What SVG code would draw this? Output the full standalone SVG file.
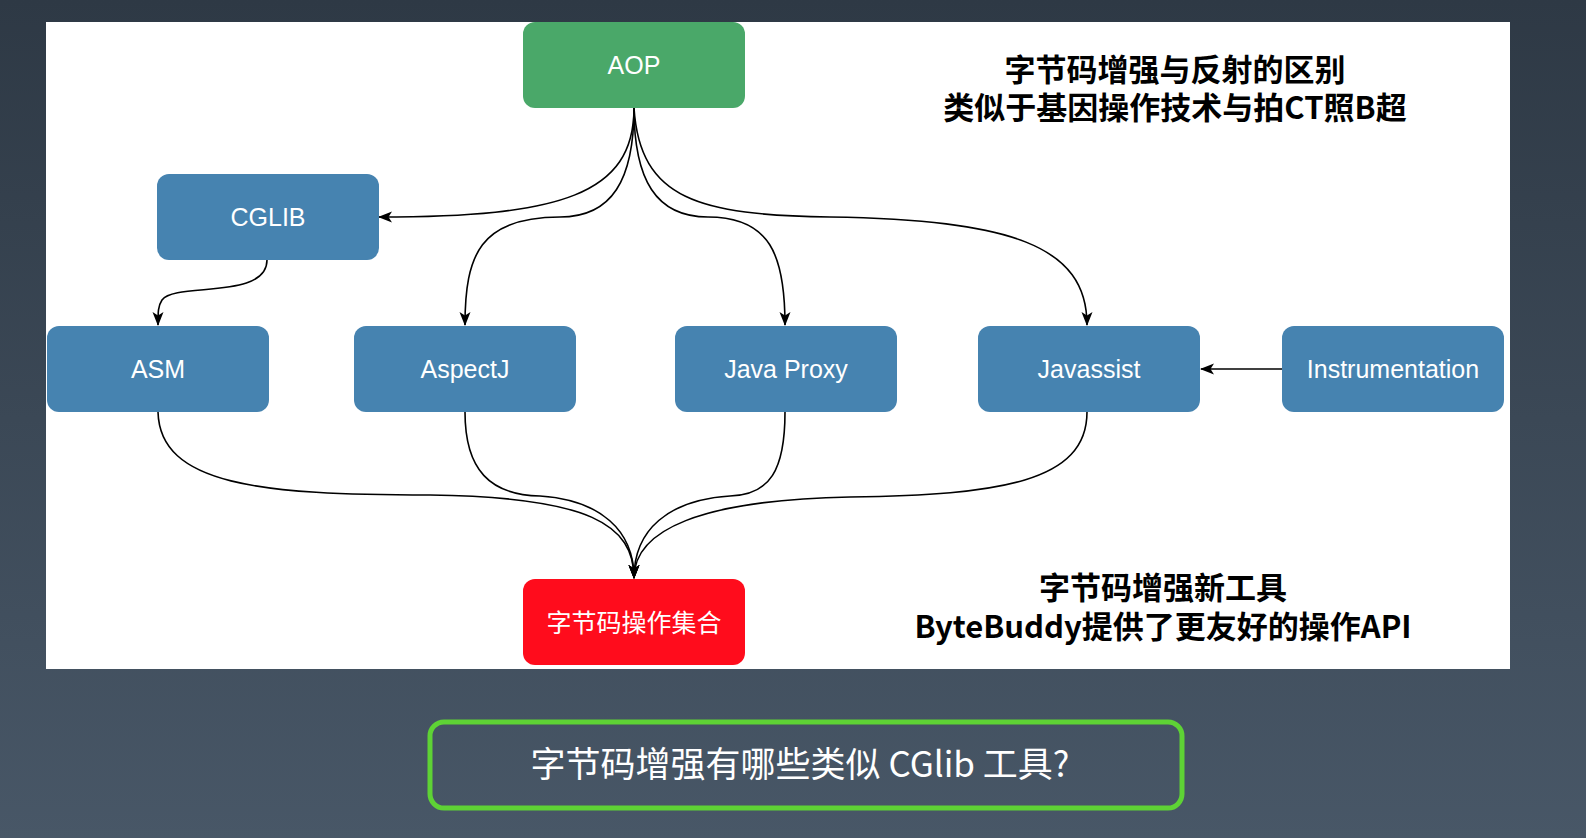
<svg xmlns="http://www.w3.org/2000/svg" width="1586" height="838" viewBox="0 0 1586 838">
<defs>
<linearGradient id="bg" x1="0" y1="0" x2="0" y2="1">
<stop offset="0" stop-color="#2e3945"/>
<stop offset="1" stop-color="#485767"/>
</linearGradient>
<marker id="arr" viewBox="0 0 14 12" refX="13" refY="6" markerWidth="14" markerHeight="12" markerUnits="userSpaceOnUse" orient="auto">
<path d="M0,0.5 L14,6 L0,11.5 L3.5,6 Z" fill="#000"/>
</marker>
<style>
.node rect{rx:12;ry:12}
.blue{fill:#4683b0}
.lbl{font-family:"Liberation Sans",Arial,sans-serif;font-size:25px;fill:#fff;text-anchor:middle;dominant-baseline:central}
.cjk{font-family:"Noto Sans CJK SC","Noto Sans",sans-serif}
.note{font-size:31px;font-weight:bold;fill:#000;text-anchor:middle}
.edge{fill:none;stroke:#000;stroke-width:1.6;marker-end:url(#arr)}
</style>
</defs>
<rect x="0" y="0" width="1586" height="838" fill="url(#bg)"/>
<rect x="46" y="22" width="1464" height="647" fill="#fff"/>

<g id="connectors">
<path class="edge" d="M634 108 C634 195 560 217 379 217"/>
<path class="edge" d="M634 108 C634 180 612 217 560 217 C480 217 465 255 465 325"/>
<path class="edge" d="M634 108 C634 180 656 217 708 217 C770 217 785 255 785 325"/>
<path class="edge" d="M634 108 C640 200 700 215 830 217 C1010 220 1087 245 1087 325"/>
<path class="edge" d="M267 260 C267 300 175 282 162 300 C158 306 158 312 158 325"/>
<path class="edge" d="M1282 369 L1201 369"/>
<path class="edge" d="M158 412 C160 485 260 495 430 495 C590 497 634 525 634 578"/>
<path class="edge" d="M465 412 C465 470 490 495 540 496 C600 500 634 530 634 578"/>
<path class="edge" d="M785 412 C785 470 770 495 730 496 C668 500 634 530 634 578"/>
<path class="edge" d="M1087 412 C1087 482 1000 495 850 497 C700 500 634 530 634 578"/>
</g>

<g id="aop" class="node"><rect x="523" y="22" width="222" height="86" fill="#4aa869"/><text class="lbl" x="634" y="65">AOP</text></g>
<g id="cglib" class="node"><rect class="blue" x="157" y="174" width="222" height="86"/><text class="lbl" x="268" y="217">CGLIB</text></g>
<g id="asm" class="node"><rect class="blue" x="47" y="326" width="222" height="86"/><text class="lbl" x="158" y="369">ASM</text></g>
<g id="aspectj" class="node"><rect class="blue" x="354" y="326" width="222" height="86"/><text class="lbl" x="465" y="369">AspectJ</text></g>
<g id="javaproxy" class="node"><rect class="blue" x="675" y="326" width="222" height="86"/><text class="lbl" x="786" y="369">Java Proxy</text></g>
<g id="javassist" class="node"><rect class="blue" x="978" y="326" width="222" height="86"/><text class="lbl" x="1089" y="369">Javassist</text></g>
<g id="instrumentation" class="node"><rect class="blue" x="1282" y="326" width="222" height="86"/><text class="lbl" x="1393" y="369">Instrumentation</text></g>
<g id="bytecode-set" class="node"><rect x="523" y="579" width="222" height="86" fill="#ff0c1c"/><text class="lbl cjk" x="634" y="621" style="font-size:25px">字节码操作集合</text></g>

<g id="note-top">
<text class="cjk note"><tspan x="1175" y="81">字节码增强与反射的区别</tspan><tspan x="1175" y="119">类似于基因操作技术与拍CT照B超</tspan></text>
</g>
<g id="note-bottom">
<text class="cjk note"><tspan x="1163" y="599">字节码增强新工具</tspan><tspan x="1163" y="638">ByteBuddy提供了更友好的操作API</tspan></text>
</g>

<g id="question">
<rect x="430" y="722" width="752" height="86" rx="14" ry="14" fill="none" stroke="#5ed235" stroke-width="5"/>
<text class="cjk" x="800" y="777" font-size="35" fill="#fff" text-anchor="middle">字节码增强有哪些类似 CGlib 工具?</text>
</g>
</svg>
